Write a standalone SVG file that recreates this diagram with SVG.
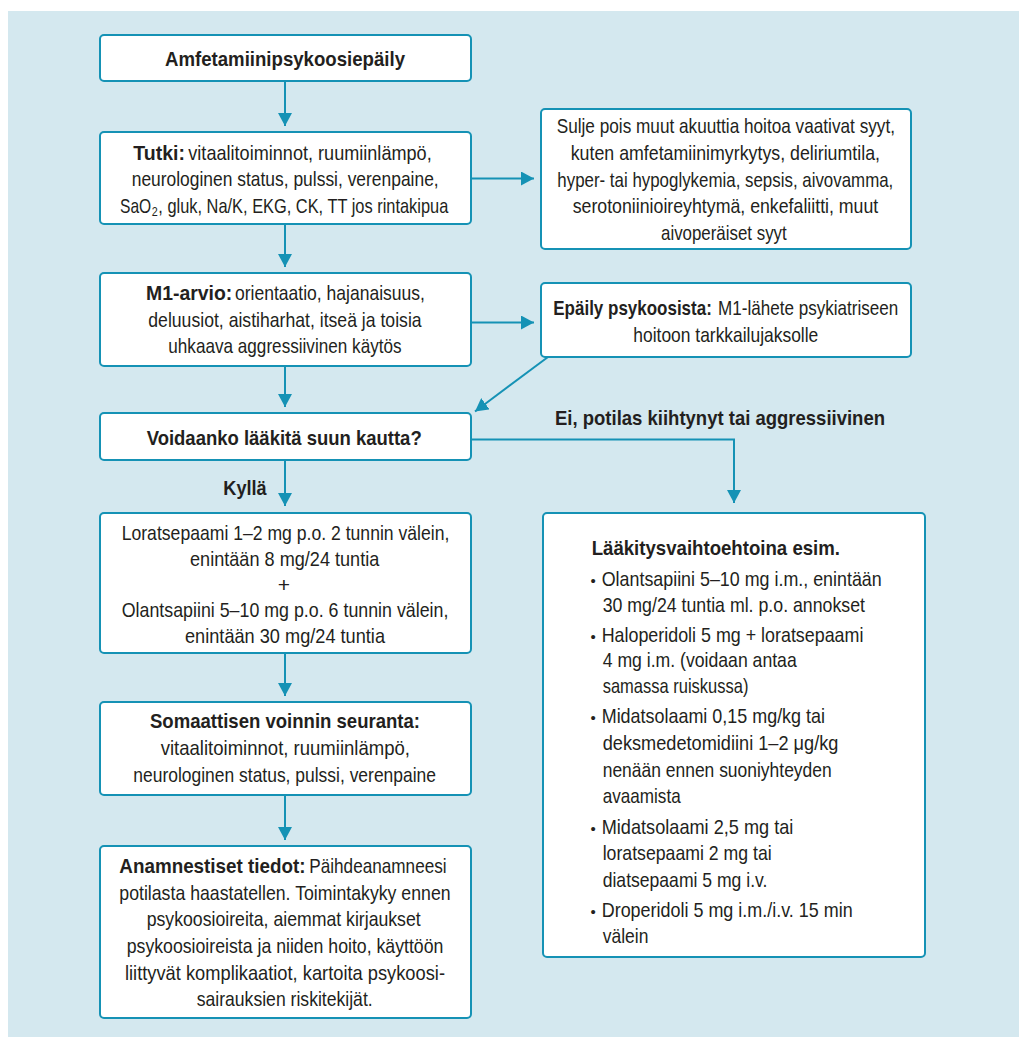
<svg xmlns="http://www.w3.org/2000/svg" width="1019" height="1037" viewBox="0 0 1019 1037">
<style>
.box{fill:#ffffff;stroke:#1592b5;stroke-width:2}
.t{font-family:"Liberation Sans",Arial,sans-serif;font-size:21px;fill:#231f20}
.b{font-weight:bold}
.sub{font-size:13px}
.bl{font-size:15px}
.c{fill:none;stroke:#1592b5;stroke-width:2}
</style>
<defs>
<marker id="ah" markerUnits="userSpaceOnUse" markerWidth="14" markerHeight="14" refX="13" refY="7" orient="auto">
<path d="M0,0 L13,7 L0,14 Z" fill="#1592b5"/>
</marker>
</defs>
<rect x="0" y="0" width="1019" height="1037" fill="#ffffff"/>
<rect x="8" y="11" width="1011" height="1026" fill="#d4e8ef"/>

<g id="connectors">
<path class="c" d="M285,81 V126" marker-end="url(#ah)"/>
<path class="c" d="M285,224 V267" marker-end="url(#ah)"/>
<path class="c" d="M285,366 V407" marker-end="url(#ah)"/>
<path class="c" d="M285,460 V506" marker-end="url(#ah)"/>
<path class="c" d="M285,653 V696" marker-end="url(#ah)"/>
<path class="c" d="M285,795 V840" marker-end="url(#ah)"/>
<path class="c" d="M471,178.5 H534" marker-end="url(#ah)"/>
<path class="c" d="M471,322.5 H534" marker-end="url(#ah)"/>
<path class="c" d="M548,357 L475,411.5" marker-end="url(#ah)"/>
<path class="c" d="M471,439.5 H734 V503" marker-end="url(#ah)"/>
<text class="t b" x="223.3" y="495" textLength="43.3" lengthAdjust="spacingAndGlyphs">Kyllä</text>
<text class="t b" x="555" y="425" textLength="330" lengthAdjust="spacingAndGlyphs">Ei, potilas kiihtynyt tai aggressiivinen</text>
</g>

<g id="n1">
<rect class="box" x="100" y="35" width="371" height="46" rx="4"/>
<text class="t b" x="165" y="66" textLength="240" lengthAdjust="spacingAndGlyphs">Amfetamiinipsykoosiepäily</text>
</g>

<g id="n2">
<rect class="box" x="100" y="132" width="371" height="92" rx="4"/>
<text class="t b" x="133.3" y="159.5" textLength="51.7" lengthAdjust="spacingAndGlyphs">Tutki:</text>
<text class="t" x="188.3" y="159.5" textLength="243.4" lengthAdjust="spacingAndGlyphs">vitaalitoiminnot, ruumiinlämpö,</text>
<text class="t" x="131.7" y="186" textLength="307" lengthAdjust="spacingAndGlyphs">neurologinen status, pulssi, verenpaine,</text>
<text class="t" x="120" y="212.5" textLength="31.2" lengthAdjust="spacingAndGlyphs">SaO</text>
<text class="t sub" x="151.8" y="216" textLength="6" lengthAdjust="spacingAndGlyphs">2</text>
<text class="t" x="158.3" y="212.5" textLength="290" lengthAdjust="spacingAndGlyphs">, gluk, Na/K, EKG, CK, TT jos rintakipua</text>
</g>

<g id="n3">
<rect class="box" x="100" y="273" width="371" height="93" rx="4"/>
<text class="t b" x="146" y="300" textLength="86.3" lengthAdjust="spacingAndGlyphs">M1-arvio:</text>
<text class="t" x="235" y="300" textLength="190" lengthAdjust="spacingAndGlyphs">orientaatio, hajanaisuus,</text>
<text class="t" x="148.3" y="326.7" textLength="273.3" lengthAdjust="spacingAndGlyphs">deluusiot, aistiharhat, itseä ja toisia</text>
<text class="t" x="168.3" y="353.3" textLength="233.3" lengthAdjust="spacingAndGlyphs">uhkaava aggressiivinen käytös</text>
</g>

<g id="n4">
<rect class="box" x="100" y="413" width="371" height="47" rx="4"/>
<text class="t b" x="146.7" y="445" textLength="275" lengthAdjust="spacingAndGlyphs">Voidaanko lääkitä suun kautta?</text>
</g>

<g id="n5">
<rect class="box" x="100" y="513" width="371" height="140" rx="4"/>
<text class="t" x="121.7" y="540" textLength="327.7" lengthAdjust="spacingAndGlyphs">Loratsepaami 1–2 mg p.o. 2 tunnin välein,</text>
<text class="t" x="190" y="566" textLength="189.3" lengthAdjust="spacingAndGlyphs">enintään 8 mg/24 tuntia</text>
<text class="t" x="284" y="591.7" text-anchor="middle">+</text>
<text class="t" x="121.7" y="616.7" textLength="326.7" lengthAdjust="spacingAndGlyphs">Olantsapiini 5–10 mg p.o. 6 tunnin välein,</text>
<text class="t" x="185" y="642.7" textLength="200" lengthAdjust="spacingAndGlyphs">enintään 30 mg/24 tuntia</text>
</g>

<g id="n6">
<rect class="box" x="100" y="702" width="371" height="93" rx="4"/>
<text class="t b" x="150" y="728.3" textLength="270" lengthAdjust="spacingAndGlyphs">Somaattisen voinnin seuranta:</text>
<text class="t" x="160.7" y="755" textLength="249.3" lengthAdjust="spacingAndGlyphs">vitaalitoiminnot, ruumiinlämpö,</text>
<text class="t" x="133.3" y="781.7" textLength="302.7" lengthAdjust="spacingAndGlyphs">neurologinen status, pulssi, verenpaine</text>
</g>

<g id="n7">
<rect class="box" x="100" y="846" width="371" height="172" rx="4"/>
<text class="t b" x="119.3" y="872.7" textLength="186.3" lengthAdjust="spacingAndGlyphs">Anamnestiset tiedot:</text>
<text class="t" x="309.3" y="872.7" textLength="137.3" lengthAdjust="spacingAndGlyphs">Päihdeanamneesi</text>
<text class="t" x="119.3" y="899.5" textLength="331.3" lengthAdjust="spacingAndGlyphs">potilasta haastatellen. Toimintakyky ennen</text>
<text class="t" x="146.7" y="926.3" textLength="274" lengthAdjust="spacingAndGlyphs">psykoosioireita, aiemmat kirjaukset</text>
<text class="t" x="126.7" y="953" textLength="316.7" lengthAdjust="spacingAndGlyphs">psykoosioireista ja niiden hoito, käyttöön</text>
<text class="t" x="125" y="979.7" textLength="320" lengthAdjust="spacingAndGlyphs">liittyvät komplikaatiot, kartoita psykoosi-</text>
<text class="t" x="196.7" y="1006.3" textLength="176" lengthAdjust="spacingAndGlyphs">sairauksien riskitekijät.</text>
</g>

<g id="r1">
<rect class="box" x="541" y="109" width="370" height="140" rx="4"/>
<text class="t" x="556.7" y="133.3" textLength="338.3" lengthAdjust="spacingAndGlyphs">Sulje pois muut akuuttia hoitoa vaativat syyt,</text>
<text class="t" x="570.7" y="160" textLength="309.3" lengthAdjust="spacingAndGlyphs">kuten amfetamiinimyrkytys, deliriumtila,</text>
<text class="t" x="557.3" y="186.7" textLength="336" lengthAdjust="spacingAndGlyphs">hyper- tai hypoglykemia, sepsis, aivovamma,</text>
<text class="t" x="572.7" y="213.3" textLength="305.6" lengthAdjust="spacingAndGlyphs">serotoniinioireyhtymä, enkefaliitti, muut</text>
<text class="t" x="661" y="240" textLength="125.7" lengthAdjust="spacingAndGlyphs">aivoperäiset syyt</text>
</g>

<g id="r2">
<rect class="box" x="541" y="283" width="370" height="74" rx="4"/>
<text class="t b" x="553.3" y="315" textLength="158.5" lengthAdjust="spacingAndGlyphs">Epäily psykoosista:</text>
<text class="t" x="718" y="315" textLength="180.3" lengthAdjust="spacingAndGlyphs">M1-lähete psykiatriseen</text>
<text class="t" x="633.3" y="341.7" textLength="185" lengthAdjust="spacingAndGlyphs">hoitoon tarkkailujaksolle</text>
</g>

<g id="r3">
<rect class="box" x="543" y="513" width="382" height="444" rx="4"/>
<text class="t b" x="591.7" y="555" textLength="248.3" lengthAdjust="spacingAndGlyphs">Lääkitysvaihtoehtoina esim.</text>
<text class="t bl" x="590.5" y="586">•</text>
<text class="t" x="601.7" y="586" textLength="280" lengthAdjust="spacingAndGlyphs">Olantsapiini 5–10 mg i.m., enintään</text>
<text class="t" x="602.7" y="611.7" textLength="262.3" lengthAdjust="spacingAndGlyphs">30 mg/24 tuntia ml. p.o. annokset</text>
<text class="t bl" x="590.5" y="641.7">•</text>
<text class="t" x="601.7" y="641.7" textLength="261.7" lengthAdjust="spacingAndGlyphs">Haloperidoli 5 mg + loratsepaami</text>
<text class="t" x="602.7" y="667" textLength="194" lengthAdjust="spacingAndGlyphs">4 mg i.m. (voidaan antaa</text>
<text class="t" x="602.7" y="693.3" textLength="145.7" lengthAdjust="spacingAndGlyphs">samassa ruiskussa)</text>
<text class="t bl" x="590.5" y="723.3">•</text>
<text class="t" x="601.7" y="723.3" textLength="223.3" lengthAdjust="spacingAndGlyphs">Midatsolaami 0,15 mg/kg tai</text>
<text class="t" x="602.7" y="750" textLength="235.7" lengthAdjust="spacingAndGlyphs">deksmedetomidiini 1–2 μg/kg</text>
<text class="t" x="602.7" y="776.7" textLength="229" lengthAdjust="spacingAndGlyphs">nenään ennen suoniyhteyden</text>
<text class="t" x="602.7" y="803.3" textLength="78" lengthAdjust="spacingAndGlyphs">avaamista</text>
<text class="t bl" x="590.5" y="834">•</text>
<text class="t" x="601.7" y="834" textLength="191.7" lengthAdjust="spacingAndGlyphs">Midatsolaami  2,5 mg tai</text>
<text class="t" x="602.7" y="860" textLength="169" lengthAdjust="spacingAndGlyphs">loratsepaami 2 mg tai</text>
<text class="t" x="602.7" y="886.7" textLength="164.7" lengthAdjust="spacingAndGlyphs">diatsepaami 5 mg i.v.</text>
<text class="t bl" x="590.5" y="916.7">•</text>
<text class="t" x="601.7" y="916.7" textLength="251" lengthAdjust="spacingAndGlyphs">Droperidoli 5 mg i.m./i.v. 15 min</text>
<text class="t" x="602.7" y="943.3" textLength="45.7" lengthAdjust="spacingAndGlyphs">välein</text>
</g>
</svg>
